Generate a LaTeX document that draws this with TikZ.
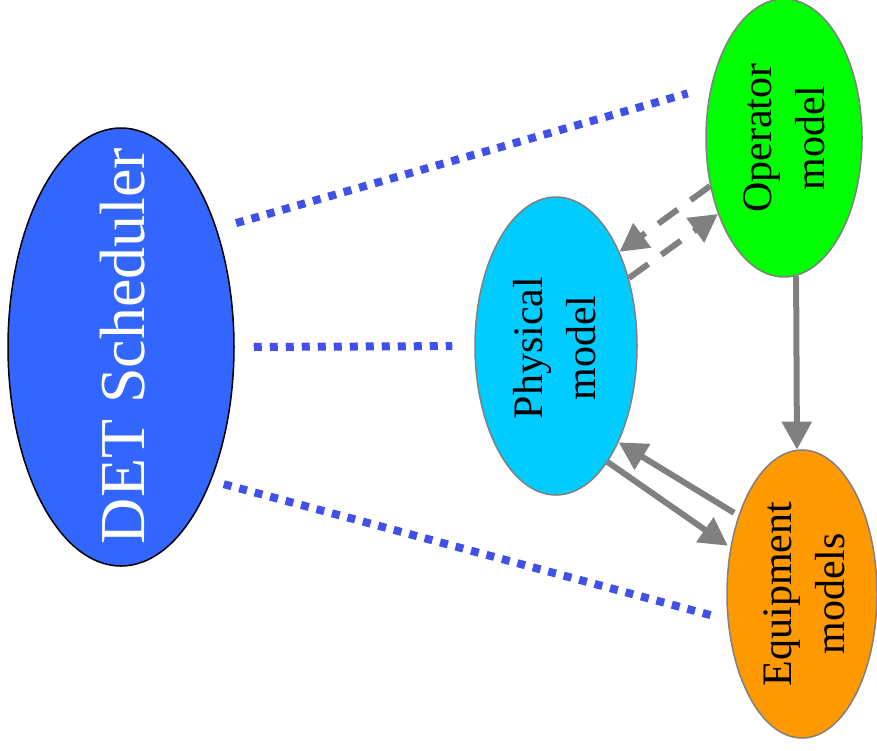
\documentclass[tikz,border=0pt]{standalone}
\usepackage{fontspec}
\setmainfont{Liberation Serif}
\usetikzlibrary{shapes.geometric,arrows.meta}
\definecolor{detblue}{HTML}{3366FF}
\definecolor{opgreen}{HTML}{00FF00}
\definecolor{physcyan}{HTML}{00CCFF}
\definecolor{eqorange}{HTML}{FF9900}
\definecolor{linkblue}{HTML}{4150E6}
\definecolor{arrowgray}{HTML}{808080}
\begin{document}
\begin{tikzpicture}[x=1pt,y=-1pt,
  oval/.style={ellipse, inner sep=0pt, draw=arrowgray, line width=1.5pt},
  lbl/.style={rotate=90, align=center, inner sep=0pt, font=\fontsize{42}{53}\selectfont},
  link/.style={draw=linkblue, line width=8pt, dash pattern=on 8pt off 8pt},
  flow/.style={draw=arrowgray, line width=6pt, -{Triangle[width=29pt,length=28pt]}},
  dflow/.style={flow, dash pattern=on 24pt off 16pt}]
\useasboundingbox (0,0) rectangle (877,750);

\node[oval, draw=black, fill=detblue, minimum width=226pt, minimum height=438pt] (det) at (121,347) {};
\node[oval, fill=opgreen, minimum width=156pt, minimum height=278pt] (op) at (784,138) {};
\node[oval, fill=physcyan, minimum width=162pt, minimum height=298pt] (phys) at (556,346) {};
\node[oval, fill=eqorange, minimum width=150pt, minimum height=288pt] (eq) at (802,594) {};

\node[lbl, text=white, font=\fontsize{64}{70}\selectfont] (dett) at (123,346) {DET Scheduler};
\node[lbl] (opt) at (784,138) {Operator\\model};
\node[lbl] (physt) at (555,348) {Physical\\model};
\node[lbl] (eqt) at (804,594) {Equipment\\models};

\draw[link, shorten <=20pt, shorten >=24pt] (det.51) -- (op.145);
\draw[link, shorten <=19pt, shorten >=22pt] (det.0) -- (phys.180);
\draw[link, shorten <=13pt, shorten >=15pt] (det.-56) -- (eq.199);

\draw[flow] (op.-85) -- (eq.92);
\draw[flow, shorten >=3pt] (phys.-66) -- (eq.147);
\draw[flow, shorten <=5pt] (eq.129) -- (phys.-57);
\draw[dflow] (op.213) -- (phys.56);
\draw[dflow] (phys.43) -- (op.229);
\end{tikzpicture}
\end{document}
